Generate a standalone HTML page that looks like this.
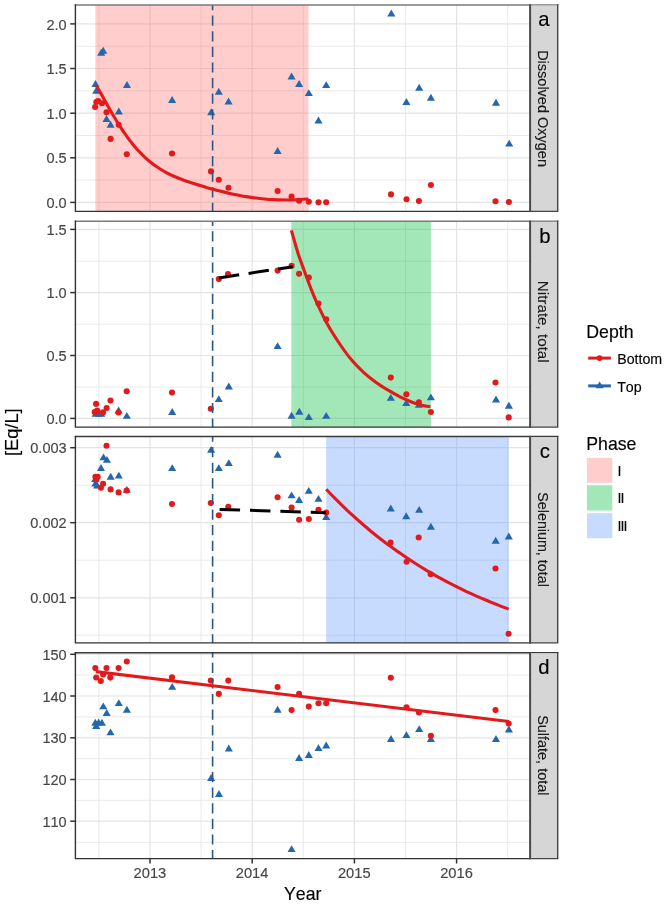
<!DOCTYPE html>
<html lang="en"><head><meta charset="utf-8"><title>Figure</title>
<style>html,body{margin:0;padding:0;background:#fff}svg{display:block;will-change:transform}text{font-family:"Liberation Sans",Arial,sans-serif;font-kerning:none;stroke-width:0.15px;paint-order:stroke}</style></head><body>
<svg width="666" height="907" viewBox="0 0 666 907">
<rect width="666" height="907" fill="#fff"/>
<g>
<path d="M75.4 180.1H530.1" stroke="#E8E8E8" stroke-width="0.9"/><path d="M75.4 135.5H530.1" stroke="#E8E8E8" stroke-width="0.9"/><path d="M75.4 90.8H530.1" stroke="#E8E8E8" stroke-width="0.9"/><path d="M75.4 46.2H530.1" stroke="#E8E8E8" stroke-width="0.9"/><path d="M98.9 5.0V211.4" stroke="#E8E8E8" stroke-width="0.9"/><path d="M201.1 5.0V211.4" stroke="#E8E8E8" stroke-width="0.9"/><path d="M303.3 5.0V211.4" stroke="#E8E8E8" stroke-width="0.9"/><path d="M405.5 5.0V211.4" stroke="#E8E8E8" stroke-width="0.9"/><path d="M507.7 5.0V211.4" stroke="#E8E8E8" stroke-width="0.9"/><path d="M75.4 202.4H530.1" stroke="#E4E4E4" stroke-width="1.2"/><path d="M75.4 157.8H530.1" stroke="#E4E4E4" stroke-width="1.2"/><path d="M75.4 113.2H530.1" stroke="#E4E4E4" stroke-width="1.2"/><path d="M75.4 68.5H530.1" stroke="#E4E4E4" stroke-width="1.2"/><path d="M75.4 23.9H530.1" stroke="#E4E4E4" stroke-width="1.2"/><path d="M150.0 5.0V211.4" stroke="#E4E4E4" stroke-width="1.2"/><path d="M252.2 5.0V211.4" stroke="#E4E4E4" stroke-width="1.2"/><path d="M354.4 5.0V211.4" stroke="#E4E4E4" stroke-width="1.2"/><path d="M456.6 5.0V211.4" stroke="#E4E4E4" stroke-width="1.2"/>
<rect x="95.4" y="5.0" width="213.1" height="206.4" fill="#FF7472" fill-opacity="0.36"/>
<g fill="#2367AD"><path d="M95.5 80.0l4.05 6.90h-8.10z"/><path d="M96.3 86.8l4.05 6.90h-8.10z"/><path d="M101.2 48.8l4.05 6.90h-8.10z"/><path d="M103.2 46.8l4.05 6.90h-8.10z"/><path d="M127.0 81.0l4.05 6.90h-8.10z"/><path d="M118.8 107.5l4.05 6.90h-8.10z"/><path d="M106.5 115.1l4.05 6.90h-8.10z"/><path d="M110.6 120.8l4.05 6.90h-8.10z"/><path d="M172.1 96.1l4.05 6.90h-8.10z"/><path d="M211.2 108.3l4.05 6.90h-8.10z"/><path d="M218.8 87.8l4.05 6.90h-8.10z"/><path d="M228.6 97.5l4.05 6.90h-8.10z"/><path d="M277.6 147.0l4.05 6.90h-8.10z"/><path d="M291.6 72.5l4.05 6.90h-8.10z"/><path d="M299.1 80.0l4.05 6.90h-8.10z"/><path d="M308.8 89.2l4.05 6.90h-8.10z"/><path d="M318.5 116.5l4.05 6.90h-8.10z"/><path d="M326.2 81.2l4.05 6.90h-8.10z"/><path d="M391.3 9.6l4.05 6.90h-8.10z"/><path d="M406.4 98.0l4.05 6.90h-8.10z"/><path d="M419.2 83.8l4.05 6.90h-8.10z"/><path d="M430.9 93.8l4.05 6.90h-8.10z"/><path d="M496.0 98.8l4.05 6.90h-8.10z"/><path d="M509.2 139.7l4.05 6.90h-8.10z"/></g>
<g fill="#E21A1C"><circle cx="95.1" cy="107.0" r="3.05"/><circle cx="96.3" cy="102.0" r="3.05"/><circle cx="98.1" cy="101.0" r="3.05"/><circle cx="102.0" cy="103.2" r="3.05"/><circle cx="106.5" cy="112.2" r="3.05"/><circle cx="118.7" cy="124.7" r="3.05"/><circle cx="110.6" cy="138.9" r="3.05"/><circle cx="126.8" cy="154.2" r="3.05"/><circle cx="172.0" cy="153.5" r="3.05"/><circle cx="211.0" cy="171.4" r="3.05"/><circle cx="218.8" cy="179.8" r="3.05"/><circle cx="228.5" cy="187.8" r="3.05"/><circle cx="277.6" cy="191.0" r="3.05"/><circle cx="291.6" cy="196.5" r="3.05"/><circle cx="299.1" cy="200.7" r="3.05"/><circle cx="308.8" cy="201.7" r="3.05"/><circle cx="318.5" cy="202.2" r="3.05"/><circle cx="326.2" cy="202.2" r="3.05"/><circle cx="391.0" cy="194.4" r="3.05"/><circle cx="406.5" cy="199.2" r="3.05"/><circle cx="418.9" cy="201.0" r="3.05"/><circle cx="430.9" cy="185.0" r="3.05"/><circle cx="495.5" cy="201.2" r="3.05"/><circle cx="508.9" cy="202.0" r="3.05"/></g>
<path d="M212.6 211.4V5.0" stroke="#2A5783" stroke-width="1.6" stroke-dasharray="10.2 5.4" stroke-dashoffset="1.6"/>
<path d="M96.2 85.6C96.8 86.6 98.7 89.7 100.0 91.9C101.3 94.1 102.7 96.6 104.0 99.0C105.3 101.4 106.7 103.8 108.0 106.2C109.3 108.6 110.7 110.9 112.0 113.2C113.3 115.5 114.7 117.8 116.0 120.0C117.3 122.2 118.7 124.3 120.0 126.4C121.3 128.5 122.7 130.5 124.0 132.4C125.3 134.3 126.7 136.2 128.0 138.0C129.3 139.8 130.7 141.5 132.0 143.2C133.3 144.9 134.7 146.5 136.0 148.0C137.3 149.5 138.5 150.8 140.0 152.4C141.5 154.0 143.3 155.8 145.0 157.4C146.7 159.0 148.2 160.3 150.0 161.8C151.8 163.3 153.8 164.8 156.0 166.3C158.2 167.8 160.7 169.4 163.0 170.8C165.3 172.2 167.2 173.2 170.0 174.5C172.8 175.8 176.3 177.4 180.0 178.8C183.7 180.2 187.8 181.6 192.0 183.0C196.2 184.4 200.7 185.7 205.0 187.0C209.3 188.3 213.5 189.4 218.0 190.6C222.5 191.8 227.3 192.9 232.0 193.9C236.7 194.9 241.0 195.8 246.0 196.6C251.0 197.4 256.7 198.2 262.0 198.8C267.3 199.4 272.7 199.7 278.0 199.9C283.3 200.1 288.9 200.1 294.0 199.9C299.1 199.8 305.9 199.2 308.3 199.0" fill="none" stroke="#E21A1C" stroke-width="3.1"/>
<path d="M74.7 5.0H558.4" stroke="#7A7A7A" stroke-width="1.5"/>
<path d="M75.4 4.3V211.4H530.1" fill="none" stroke="#333" stroke-width="1.4"/>
<rect x="530.1" y="5.5" width="27.6" height="205.9" fill="#D6D6D6"/>
<path d="M530.1 4.3V212.1" stroke="#4A4A4A" stroke-width="2.0"/>
<path d="M530.1 211.4H557.7V4.3" fill="none" stroke="#444" stroke-width="1.4"/>
<text transform="translate(538.4 108.55) rotate(90)" text-anchor="middle" font-size="14.50" fill="#1A1A1A" stroke="#1A1A1A">Dissolved Oxygen</text>
<text x="544.0" y="25.6" text-anchor="middle" font-size="20.3" fill="#000" stroke="#000">a</text>
<path d="M70.2 202.4H75.4" stroke="#333" stroke-width="1.5"/>
<text x="66.7" y="208.0" text-anchor="end" font-size="14.55" fill="#454545" stroke="#454545">0.0</text>
<path d="M70.2 157.8H75.4" stroke="#333" stroke-width="1.5"/>
<text x="66.7" y="163.4" text-anchor="end" font-size="14.55" fill="#454545" stroke="#454545">0.5</text>
<path d="M70.2 113.2H75.4" stroke="#333" stroke-width="1.5"/>
<text x="66.7" y="118.8" text-anchor="end" font-size="14.55" fill="#454545" stroke="#454545">1.0</text>
<path d="M70.2 68.5H75.4" stroke="#333" stroke-width="1.5"/>
<text x="66.7" y="74.1" text-anchor="end" font-size="14.55" fill="#454545" stroke="#454545">1.5</text>
<path d="M70.2 23.9H75.4" stroke="#333" stroke-width="1.5"/>
<text x="66.7" y="29.5" text-anchor="end" font-size="14.55" fill="#454545" stroke="#454545">2.0</text>
</g>
<g>
<path d="M75.4 387.1H530.1" stroke="#E8E8E8" stroke-width="0.9"/><path d="M75.4 324.2H530.1" stroke="#E8E8E8" stroke-width="0.9"/><path d="M75.4 261.2H530.1" stroke="#E8E8E8" stroke-width="0.9"/><path d="M98.9 221.3V427.1" stroke="#E8E8E8" stroke-width="0.9"/><path d="M201.1 221.3V427.1" stroke="#E8E8E8" stroke-width="0.9"/><path d="M303.3 221.3V427.1" stroke="#E8E8E8" stroke-width="0.9"/><path d="M405.5 221.3V427.1" stroke="#E8E8E8" stroke-width="0.9"/><path d="M507.7 221.3V427.1" stroke="#E8E8E8" stroke-width="0.9"/><path d="M75.4 418.4H530.1" stroke="#E4E4E4" stroke-width="1.2"/><path d="M75.4 355.5H530.1" stroke="#E4E4E4" stroke-width="1.2"/><path d="M75.4 292.6H530.1" stroke="#E4E4E4" stroke-width="1.2"/><path d="M75.4 229.4H530.1" stroke="#E4E4E4" stroke-width="1.2"/><path d="M150.0 221.3V427.1" stroke="#E4E4E4" stroke-width="1.2"/><path d="M252.2 221.3V427.1" stroke="#E4E4E4" stroke-width="1.2"/><path d="M354.4 221.3V427.1" stroke="#E4E4E4" stroke-width="1.2"/><path d="M456.6 221.3V427.1" stroke="#E4E4E4" stroke-width="1.2"/>
<rect x="291.3" y="221.3" width="139.6" height="205.8" fill="#00BA38" fill-opacity="0.36"/>
<g fill="#2367AD"><path d="M95.6 409.9l4.05 6.90h-8.10z"/><path d="M98.5 409.8l4.05 6.90h-8.10z"/><path d="M101.3 409.9l4.05 6.90h-8.10z"/><path d="M118.6 406.6l4.05 6.90h-8.10z"/><path d="M126.8 411.9l4.05 6.90h-8.10z"/><path d="M172.2 408.1l4.05 6.90h-8.10z"/><path d="M218.8 395.2l4.05 6.90h-8.10z"/><path d="M228.8 382.6l4.05 6.90h-8.10z"/><path d="M277.6 342.2l4.05 6.90h-8.10z"/><path d="M291.6 411.8l4.05 6.90h-8.10z"/><path d="M299.3 407.8l4.05 6.90h-8.10z"/><path d="M308.8 413.2l4.05 6.90h-8.10z"/><path d="M326.2 411.9l4.05 6.90h-8.10z"/><path d="M390.8 393.9l4.05 6.90h-8.10z"/><path d="M406.3 399.2l4.05 6.90h-8.10z"/><path d="M418.9 400.8l4.05 6.90h-8.10z"/><path d="M430.9 393.4l4.05 6.90h-8.10z"/><path d="M496.0 395.6l4.05 6.90h-8.10z"/><path d="M508.9 401.8l4.05 6.90h-8.10z"/></g>
<g fill="#E21A1C"><circle cx="96.1" cy="403.9" r="3.05"/><circle cx="110.5" cy="400.5" r="3.05"/><circle cx="126.7" cy="391.3" r="3.05"/><circle cx="106.6" cy="408.0" r="3.05"/><circle cx="97.2" cy="410.6" r="3.05"/><circle cx="94.7" cy="412.0" r="3.05"/><circle cx="103.0" cy="412.4" r="3.05"/><circle cx="118.5" cy="412.5" r="3.05"/><circle cx="172.0" cy="392.5" r="3.05"/><circle cx="210.8" cy="408.7" r="3.05"/><circle cx="218.8" cy="279.1" r="3.05"/><circle cx="228.0" cy="274.1" r="3.05"/><circle cx="277.6" cy="270.6" r="3.05"/><circle cx="291.6" cy="265.8" r="3.05"/><circle cx="299.1" cy="273.8" r="3.05"/><circle cx="308.8" cy="277.6" r="3.05"/><circle cx="318.5" cy="303.5" r="3.05"/><circle cx="326.2" cy="319.2" r="3.05"/><circle cx="390.8" cy="377.6" r="3.05"/><circle cx="406.4" cy="394.3" r="3.05"/><circle cx="418.9" cy="402.2" r="3.05"/><circle cx="430.9" cy="412.0" r="3.05"/><circle cx="495.5" cy="382.5" r="3.05"/><circle cx="508.7" cy="417.4" r="3.05"/></g>
<path d="M212.6 427.1V221.3" stroke="#2A5783" stroke-width="1.6" stroke-dasharray="10.2 5.4" stroke-dashoffset="1.6"/>
<path d="M218.9 277.9L292.8 266.7" fill="none" stroke="#000" stroke-width="3.0" stroke-dasharray="20.5 9.5"/>
<path d="M291.4 230.4C292.5 234.2 295.9 246.6 298.0 253.2C300.1 259.8 301.8 264.0 304.0 270.0C306.2 276.0 308.8 283.3 311.2 289.3C313.6 295.3 315.6 300.1 318.4 306.1C321.2 312.1 324.4 318.9 328.0 325.3C331.6 331.7 336.1 338.6 340.1 344.5C344.1 350.4 348.1 355.9 352.1 360.6C356.1 365.3 360.1 369.2 364.1 372.9C368.1 376.5 372.1 379.6 376.1 382.5C380.1 385.4 384.1 387.8 388.1 390.2C392.1 392.6 396.1 394.9 400.1 396.9C404.1 398.9 408.1 400.7 412.1 402.2C416.1 403.7 421.1 405.1 424.1 405.8C427.2 406.5 429.3 406.5 430.4 406.6" fill="none" stroke="#E21A1C" stroke-width="3.1"/>
<path d="M74.7 221.3H558.4" stroke="#7A7A7A" stroke-width="1.5"/>
<path d="M75.4 220.6V427.1H530.1" fill="none" stroke="#333" stroke-width="1.4"/>
<rect x="530.1" y="221.8" width="27.6" height="205.3" fill="#D6D6D6"/>
<path d="M530.1 220.6V427.8" stroke="#4A4A4A" stroke-width="2.0"/>
<path d="M530.1 427.1H557.7V220.6" fill="none" stroke="#444" stroke-width="1.4"/>
<text transform="translate(538.4 321.75) rotate(90)" text-anchor="middle" font-size="15.20" fill="#1A1A1A" stroke="#1A1A1A">Nitrate, total</text>
<text x="544.8" y="242.9" text-anchor="middle" font-size="20.3" fill="#000" stroke="#000">b</text>
<path d="M70.2 418.4H75.4" stroke="#333" stroke-width="1.5"/>
<text x="66.7" y="424.0" text-anchor="end" font-size="14.55" fill="#454545" stroke="#454545">0.0</text>
<path d="M70.2 355.5H75.4" stroke="#333" stroke-width="1.5"/>
<text x="66.7" y="361.1" text-anchor="end" font-size="14.55" fill="#454545" stroke="#454545">0.5</text>
<path d="M70.2 292.6H75.4" stroke="#333" stroke-width="1.5"/>
<text x="66.7" y="298.2" text-anchor="end" font-size="14.55" fill="#454545" stroke="#454545">1.0</text>
<path d="M70.2 229.4H75.4" stroke="#333" stroke-width="1.5"/>
<text x="66.7" y="235.0" text-anchor="end" font-size="14.55" fill="#454545" stroke="#454545">1.5</text>
</g>
<g>
<path d="M75.4 635.2H530.1" stroke="#E8E8E8" stroke-width="0.9"/><path d="M75.4 560.2H530.1" stroke="#E8E8E8" stroke-width="0.9"/><path d="M75.4 485.2H530.1" stroke="#E8E8E8" stroke-width="0.9"/><path d="M98.9 436.6V642.9" stroke="#E8E8E8" stroke-width="0.9"/><path d="M201.1 436.6V642.9" stroke="#E8E8E8" stroke-width="0.9"/><path d="M303.3 436.6V642.9" stroke="#E8E8E8" stroke-width="0.9"/><path d="M405.5 436.6V642.9" stroke="#E8E8E8" stroke-width="0.9"/><path d="M507.7 436.6V642.9" stroke="#E8E8E8" stroke-width="0.9"/><path d="M75.4 597.8H530.1" stroke="#E4E4E4" stroke-width="1.2"/><path d="M75.4 522.7H530.1" stroke="#E4E4E4" stroke-width="1.2"/><path d="M75.4 447.7H530.1" stroke="#E4E4E4" stroke-width="1.2"/><path d="M150.0 436.6V642.9" stroke="#E4E4E4" stroke-width="1.2"/><path d="M252.2 436.6V642.9" stroke="#E4E4E4" stroke-width="1.2"/><path d="M354.4 436.6V642.9" stroke="#E4E4E4" stroke-width="1.2"/><path d="M456.6 436.6V642.9" stroke="#E4E4E4" stroke-width="1.2"/>
<rect x="326.2" y="436.6" width="182.7" height="206.3" fill="#619CFF" fill-opacity="0.36"/>
<g fill="#2367AD"><path d="M103.5 453.4l4.05 6.90h-8.10z"/><path d="M106.9 455.9l4.05 6.90h-8.10z"/><path d="M101.0 464.1l4.05 6.90h-8.10z"/><path d="M110.7 472.8l4.05 6.90h-8.10z"/><path d="M118.8 471.7l4.05 6.90h-8.10z"/><path d="M126.9 485.9l4.05 6.90h-8.10z"/><path d="M95.2 475.2l4.05 6.90h-8.10z"/><path d="M95.4 479.6l4.05 6.90h-8.10z"/><path d="M97.2 481.6l4.05 6.90h-8.10z"/><path d="M172.2 464.2l4.05 6.90h-8.10z"/><path d="M211.1 445.9l4.05 6.90h-8.10z"/><path d="M218.8 464.2l4.05 6.90h-8.10z"/><path d="M228.8 459.2l4.05 6.90h-8.10z"/><path d="M277.6 450.8l4.05 6.90h-8.10z"/><path d="M291.6 491.4l4.05 6.90h-8.10z"/><path d="M299.1 496.1l4.05 6.90h-8.10z"/><path d="M308.8 486.9l4.05 6.90h-8.10z"/><path d="M318.5 494.9l4.05 6.90h-8.10z"/><path d="M326.2 513.0l4.05 6.90h-8.10z"/><path d="M390.8 504.6l4.05 6.90h-8.10z"/><path d="M406.2 512.3l4.05 6.90h-8.10z"/><path d="M419.2 505.9l4.05 6.90h-8.10z"/><path d="M430.9 522.8l4.05 6.90h-8.10z"/><path d="M495.7 536.8l4.05 6.90h-8.10z"/><path d="M508.8 532.5l4.05 6.90h-8.10z"/></g>
<g fill="#E21A1C"><circle cx="106.5" cy="445.8" r="3.05"/><circle cx="95.4" cy="476.7" r="3.05"/><circle cx="97.7" cy="476.8" r="3.05"/><circle cx="96.3" cy="479.2" r="3.05"/><circle cx="103.1" cy="483.7" r="3.05"/><circle cx="100.9" cy="487.8" r="3.05"/><circle cx="110.6" cy="489.4" r="3.05"/><circle cx="118.6" cy="492.4" r="3.05"/><circle cx="126.6" cy="490.5" r="3.05"/><circle cx="172.0" cy="504.0" r="3.05"/><circle cx="210.8" cy="503.0" r="3.05"/><circle cx="218.8" cy="515.2" r="3.05"/><circle cx="228.3" cy="506.8" r="3.05"/><circle cx="277.6" cy="497.3" r="3.05"/><circle cx="291.6" cy="507.5" r="3.05"/><circle cx="299.1" cy="519.7" r="3.05"/><circle cx="308.8" cy="519.0" r="3.05"/><circle cx="318.5" cy="509.8" r="3.05"/><circle cx="326.2" cy="512.5" r="3.05"/><circle cx="390.6" cy="542.5" r="3.05"/><circle cx="418.7" cy="537.5" r="3.05"/><circle cx="406.6" cy="561.8" r="3.05"/><circle cx="430.7" cy="574.3" r="3.05"/><circle cx="495.5" cy="568.5" r="3.05"/><circle cx="508.6" cy="633.7" r="3.05"/></g>
<path d="M212.6 642.9V436.6" stroke="#2A5783" stroke-width="1.6" stroke-dasharray="10.2 5.4" stroke-dashoffset="1.6"/>
<path d="M219.6 509.4L326.2 512.8" fill="none" stroke="#000" stroke-width="3.0" stroke-dasharray="20.5 9.9"/>
<path d="M326.2 489.3C327.7 490.9 332.3 495.7 335.3 498.7C338.4 501.8 341.4 504.8 344.4 507.7C347.5 510.6 350.5 513.5 353.6 516.2C356.6 519.0 359.6 521.7 362.7 524.3C365.7 526.9 368.8 529.5 371.8 532.0C374.8 534.5 377.9 536.9 380.9 539.2C384.0 541.6 387.0 543.9 390.0 546.1C393.1 548.3 396.1 550.5 399.2 552.6C402.2 554.8 405.2 556.8 408.3 558.8C411.3 560.8 414.4 562.8 417.4 564.7C420.4 566.6 423.5 568.5 426.5 570.3C429.6 572.1 432.6 573.8 435.6 575.6C438.7 577.3 441.7 578.9 444.8 580.6C447.8 582.2 450.8 583.8 453.9 585.3C456.9 586.8 460.0 588.3 463.0 589.8C466.0 591.3 469.1 592.7 472.1 594.1C475.2 595.5 478.2 596.8 481.2 598.1C484.3 599.4 487.3 600.7 490.4 602.0C493.4 603.2 496.4 604.4 499.5 605.6C502.5 606.8 507.1 608.5 508.6 609.1" fill="none" stroke="#E21A1C" stroke-width="3.1"/>
<path d="M74.7 436.6H558.4" stroke="#3A3A3A" stroke-width="1.5"/>
<path d="M75.4 435.9V642.9H530.1" fill="none" stroke="#333" stroke-width="1.4"/>
<rect x="530.1" y="437.1" width="27.6" height="205.8" fill="#D6D6D6"/>
<path d="M530.1 435.9V643.6" stroke="#4A4A4A" stroke-width="2.0"/>
<path d="M530.1 642.9H557.7V435.9" fill="none" stroke="#444" stroke-width="1.4"/>
<text transform="translate(538.4 539.55) rotate(90)" text-anchor="middle" font-size="14.30" fill="#1A1A1A" stroke="#1A1A1A">Selenium, total</text>
<text x="544.9" y="457.8" text-anchor="middle" font-size="20.3" fill="#000" stroke="#000">c</text>
<path d="M70.2 597.8H75.4" stroke="#333" stroke-width="1.5"/>
<text x="66.7" y="603.4" text-anchor="end" font-size="14.55" fill="#454545" stroke="#454545">0.001</text>
<path d="M70.2 522.7H75.4" stroke="#333" stroke-width="1.5"/>
<text x="66.7" y="528.3" text-anchor="end" font-size="14.55" fill="#454545" stroke="#454545">0.002</text>
<path d="M70.2 447.7H75.4" stroke="#333" stroke-width="1.5"/>
<text x="66.7" y="453.3" text-anchor="end" font-size="14.55" fill="#454545" stroke="#454545">0.003</text>
</g>
<g>
<path d="M75.4 842.4H530.1" stroke="#E8E8E8" stroke-width="0.9"/><path d="M75.4 800.4H530.1" stroke="#E8E8E8" stroke-width="0.9"/><path d="M75.4 758.6H530.1" stroke="#E8E8E8" stroke-width="0.9"/><path d="M75.4 716.9H530.1" stroke="#E8E8E8" stroke-width="0.9"/><path d="M75.4 675.1H530.1" stroke="#E8E8E8" stroke-width="0.9"/><path d="M98.9 652.8V858.6" stroke="#E8E8E8" stroke-width="0.9"/><path d="M201.1 652.8V858.6" stroke="#E8E8E8" stroke-width="0.9"/><path d="M303.3 652.8V858.6" stroke="#E8E8E8" stroke-width="0.9"/><path d="M405.5 652.8V858.6" stroke="#E8E8E8" stroke-width="0.9"/><path d="M507.7 652.8V858.6" stroke="#E8E8E8" stroke-width="0.9"/><path d="M75.4 821.2H530.1" stroke="#E4E4E4" stroke-width="1.2"/><path d="M75.4 779.5H530.1" stroke="#E4E4E4" stroke-width="1.2"/><path d="M75.4 737.8H530.1" stroke="#E4E4E4" stroke-width="1.2"/><path d="M75.4 696.0H530.1" stroke="#E4E4E4" stroke-width="1.2"/><path d="M75.4 654.3H530.1" stroke="#E4E4E4" stroke-width="1.2"/><path d="M150.0 652.8V858.6" stroke="#E4E4E4" stroke-width="1.2"/><path d="M252.2 652.8V858.6" stroke="#E4E4E4" stroke-width="1.2"/><path d="M354.4 652.8V858.6" stroke="#E4E4E4" stroke-width="1.2"/><path d="M456.6 652.8V858.6" stroke="#E4E4E4" stroke-width="1.2"/>
<g fill="#2367AD"><path d="M103.3 702.4l4.05 6.90h-8.10z"/><path d="M106.7 709.0l4.05 6.90h-8.10z"/><path d="M118.8 699.2l4.05 6.90h-8.10z"/><path d="M126.9 705.8l4.05 6.90h-8.10z"/><path d="M95.3 718.8l4.05 6.90h-8.10z"/><path d="M98.6 718.5l4.05 6.90h-8.10z"/><path d="M101.9 718.8l4.05 6.90h-8.10z"/><path d="M96.2 722.1l4.05 6.90h-8.10z"/><path d="M110.5 728.4l4.05 6.90h-8.10z"/><path d="M172.2 682.9l4.05 6.90h-8.10z"/><path d="M228.8 744.5l4.05 6.90h-8.10z"/><path d="M211.1 774.1l4.05 6.90h-8.10z"/><path d="M219.0 790.1l4.05 6.90h-8.10z"/><path d="M277.6 705.8l4.05 6.90h-8.10z"/><path d="M291.6 845.2l4.05 6.90h-8.10z"/><path d="M299.1 754.0l4.05 6.90h-8.10z"/><path d="M308.8 751.1l4.05 6.90h-8.10z"/><path d="M318.5 744.2l4.05 6.90h-8.10z"/><path d="M326.2 741.5l4.05 6.90h-8.10z"/><path d="M391.0 735.0l4.05 6.90h-8.10z"/><path d="M406.4 731.2l4.05 6.90h-8.10z"/><path d="M419.2 725.2l4.05 6.90h-8.10z"/><path d="M430.9 735.0l4.05 6.90h-8.10z"/><path d="M496.0 735.0l4.05 6.90h-8.10z"/><path d="M508.9 725.5l4.05 6.90h-8.10z"/></g>
<g fill="#E21A1C"><circle cx="95.3" cy="668.1" r="3.05"/><circle cx="106.5" cy="668.1" r="3.05"/><circle cx="118.6" cy="668.1" r="3.05"/><circle cx="126.8" cy="661.5" r="3.05"/><circle cx="96.2" cy="677.5" r="3.05"/><circle cx="100.8" cy="681.0" r="3.05"/><circle cx="103.1" cy="674.5" r="3.05"/><circle cx="110.3" cy="677.6" r="3.05"/><circle cx="172.0" cy="677.4" r="3.05"/><circle cx="210.8" cy="680.6" r="3.05"/><circle cx="218.8" cy="693.9" r="3.05"/><circle cx="228.3" cy="680.6" r="3.05"/><circle cx="277.6" cy="687.1" r="3.05"/><circle cx="291.6" cy="710.1" r="3.05"/><circle cx="299.1" cy="693.9" r="3.05"/><circle cx="308.8" cy="706.6" r="3.05"/><circle cx="318.5" cy="703.3" r="3.05"/><circle cx="326.2" cy="703.3" r="3.05"/><circle cx="390.8" cy="677.7" r="3.05"/><circle cx="406.5" cy="707.2" r="3.05"/><circle cx="418.9" cy="712.5" r="3.05"/><circle cx="430.9" cy="735.7" r="3.05"/><circle cx="495.5" cy="710.1" r="3.05"/><circle cx="508.7" cy="723.5" r="3.05"/></g>
<path d="M212.6 858.6V652.8" stroke="#2A5783" stroke-width="1.6" stroke-dasharray="10.2 5.4" stroke-dashoffset="1.6"/>
<path d="M95.9 671.6L508.9 721.5" fill="none" stroke="#E21A1C" stroke-width="3.1"/>
<path d="M74.7 652.8H558.4" stroke="#3A3A3A" stroke-width="1.5"/>
<path d="M75.4 652.1V858.6H530.1" fill="none" stroke="#333" stroke-width="1.4"/>
<rect x="530.1" y="653.3" width="27.6" height="205.3" fill="#D6D6D6"/>
<path d="M530.1 652.1V859.3" stroke="#4A4A4A" stroke-width="2.0"/>
<path d="M530.1 858.6H557.7V652.1" fill="none" stroke="#444" stroke-width="1.4"/>
<text transform="translate(538.4 755.30) rotate(90)" text-anchor="middle" font-size="14.45" fill="#1A1A1A" stroke="#1A1A1A">Sulfate, total</text>
<text x="544.0" y="674.4" text-anchor="middle" font-size="20.3" fill="#000" stroke="#000">d</text>
<path d="M70.2 821.2H75.4" stroke="#333" stroke-width="1.5"/>
<text x="66.7" y="826.8" text-anchor="end" font-size="14.55" fill="#454545" stroke="#454545">110</text>
<path d="M70.2 779.5H75.4" stroke="#333" stroke-width="1.5"/>
<text x="66.7" y="785.1" text-anchor="end" font-size="14.55" fill="#454545" stroke="#454545">120</text>
<path d="M70.2 737.8H75.4" stroke="#333" stroke-width="1.5"/>
<text x="66.7" y="743.4" text-anchor="end" font-size="14.55" fill="#454545" stroke="#454545">130</text>
<path d="M70.2 696.0H75.4" stroke="#333" stroke-width="1.5"/>
<text x="66.7" y="701.6" text-anchor="end" font-size="14.55" fill="#454545" stroke="#454545">140</text>
<path d="M70.2 654.3H75.4" stroke="#333" stroke-width="1.5"/>
<text x="66.7" y="659.9" text-anchor="end" font-size="14.55" fill="#454545" stroke="#454545">150</text>
</g>
<path d="M150.0 858.6V863.5" stroke="#333" stroke-width="1.5"/>
<text x="149.9" y="877.8" text-anchor="middle" font-size="14.7" fill="#454545" stroke="#454545">2013</text>
<path d="M252.2 858.6V863.5" stroke="#333" stroke-width="1.5"/>
<text x="252.1" y="877.8" text-anchor="middle" font-size="14.7" fill="#454545" stroke="#454545">2014</text>
<path d="M354.4 858.6V863.5" stroke="#333" stroke-width="1.5"/>
<text x="354.3" y="877.8" text-anchor="middle" font-size="14.7" fill="#454545" stroke="#454545">2015</text>
<path d="M456.6 858.6V863.5" stroke="#333" stroke-width="1.5"/>
<text x="456.5" y="877.8" text-anchor="middle" font-size="14.7" fill="#454545" stroke="#454545">2016</text>
<text x="302.7" y="899.6" text-anchor="middle" font-size="17.7" fill="#000" stroke="#000">Year</text>
<text transform="translate(18.0 432.2) rotate(-90)" text-anchor="middle" font-size="18.3" fill="#000" stroke="#000">[Eq/L]</text>
<text x="586.3" y="337.6" font-size="17.7" fill="#000" stroke="#000">Depth</text>
<path d="M588.2 358.1H610.9" stroke="#E21A1C" stroke-width="3.0"/><circle cx="599.6" cy="358.1" r="2.9" fill="#E21A1C"/>
<text x="617.2" y="364.2" font-size="14.2" fill="#000" stroke="#000">Bottom</text>
<path d="M588.2 385.9H610.9" stroke="#2367AD" stroke-width="3.0"/><path d="M599.6 381.4l4.05 6.90h-8.10z" fill="#2367AD"/>
<text x="617.2" y="392.0" font-size="14.2" fill="#000" stroke="#000">Top</text>
<text x="586.3" y="449.5" font-size="17.7" fill="#000" stroke="#000">Phase</text>
<rect x="586.9" y="457.9" width="25.4" height="24.8" fill="#FF7472" fill-opacity="0.36"/>
<text x="617.4" y="475.5" font-size="14.2" letter-spacing="-0.9" fill="#000" stroke="#000">I</text>
<rect x="586.9" y="485.2" width="25.4" height="25.4" fill="#00BA38" fill-opacity="0.36"/>
<text x="617.4" y="503.1" font-size="14.2" letter-spacing="-0.9" fill="#000" stroke="#000">II</text>
<rect x="586.9" y="513.2" width="25.4" height="25.0" fill="#619CFF" fill-opacity="0.36"/>
<text x="617.4" y="530.9" font-size="14.2" letter-spacing="-0.9" fill="#000" stroke="#000">III</text>
</svg></body></html>
